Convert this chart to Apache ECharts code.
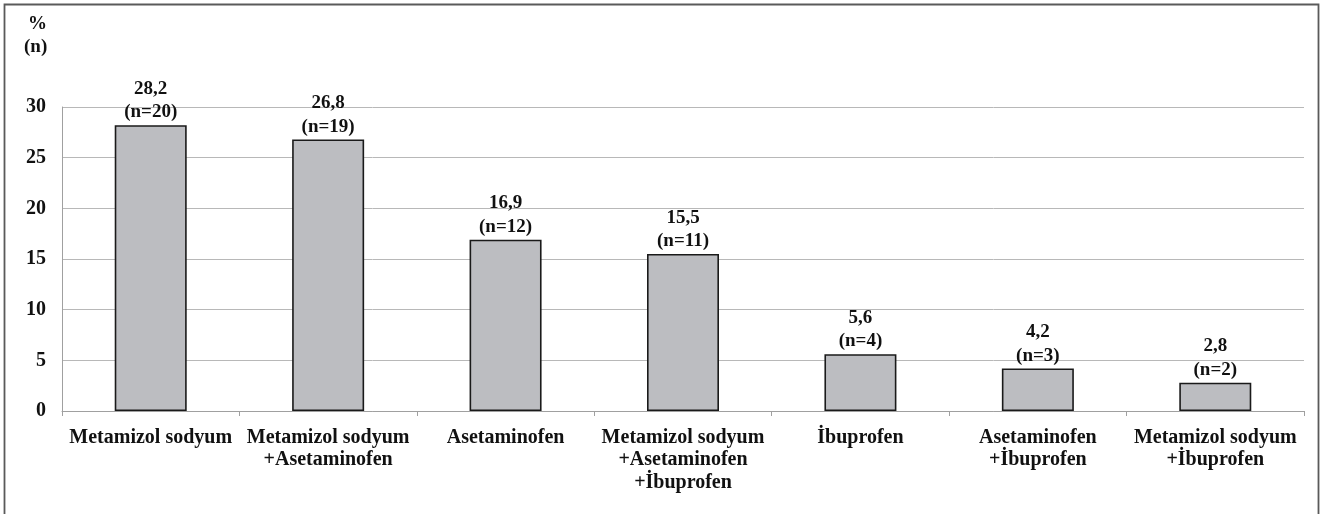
<!DOCTYPE html>
<html><head><meta charset="utf-8">
<script src="https://cdn.jsdelivr.net/npm/echarts@6/dist/echarts.min.js"></script>
<style>html,body{margin:0;padding:0;background:#fff}#c{width:1322px;height:514px}</style>
</head><body><div id="c"></div>
<script>
const categories = ["Metamizol sodyum", "Metamizol sodyum\n+Asetaminofen", "Asetaminofen", "Metamizol sodyum\n+Asetaminofen\n+İbuprofen", "İbuprofen", "Asetaminofen\n+İbuprofen", "Metamizol sodyum\n+İbuprofen"];
const percentValues = [28.2, 26.8, 16.9, 15.5, 5.6, 4.2, 2.8];
const counts = [20, 19, 12, 11, 4, 3, 2];
const yTicks = [0, 5, 10, 15, 20, 25, 30];

const font = '"Liberation Serif", "Times New Roman", serif';
const chart = echarts.init(document.getElementById('c'));
chart.setOption({
  animation: false,
  textStyle: { fontFamily: font },
  graphic: [
    { type: 'rect', shape: { x: 4.5, y: 4.5, width: 1314, height: 530 }, style: { fill: 'none', stroke: '#5a5a5a', lineWidth: 1.8 } },
    { type: 'text', left: 28, top: 15, style: { text: '%', font: 'bold 19px ' + font, fill: '#111' } },
    { type: 'text', left: 24, top: 38, style: { text: '(n)', font: 'bold 19px ' + font, fill: '#111' } }
  ],
  grid: { left: 62, right: 18, top: 107, bottom: 103 },
  xAxis: {
    type: 'category',
    data: categories,
    axisLine: { lineStyle: { color: '#a0a0a0', width: 1 } },
    axisTick: { show: true, length: 5, lineStyle: { color: '#a0a0a0' } },
    axisLabel: { interval: 0, color: '#111', fontWeight: 'bold', fontSize: 20, lineHeight: 22.5, margin: 15.5, fontFamily: font }
  },
  yAxis: {
    type: 'value', min: 0, max: 30, interval: 5,
    axisLine: { show: true, lineStyle: { color: '#a0a0a0' } },
    axisTick: { show: false },
    splitLine: { lineStyle: { color: '#b8b8b8', width: 1 } },
    axisLabel: { color: '#111', fontWeight: 'bold', fontSize: 20, margin: 16, fontFamily: font,
      formatter: v => yTicks.includes(v) ? String(v) : '' }
  },
  series: [{
    type: 'bar',
    data: percentValues,
    barWidth: 72,
    itemStyle: { color: '#bcbdc1', borderColor: '#1a1a1a', borderWidth: 1.6 },
    label: {
      show: true, position: 'top', distance: 1,
      color: '#111', fontWeight: 'bold', fontSize: 19, lineHeight: 23.5, fontFamily: font,
      formatter: p => p.value.toFixed(1).replace('.', ',') + '\n(n=' + counts[p.dataIndex] + ')'
    }
  }]
});
</script></body></html>
